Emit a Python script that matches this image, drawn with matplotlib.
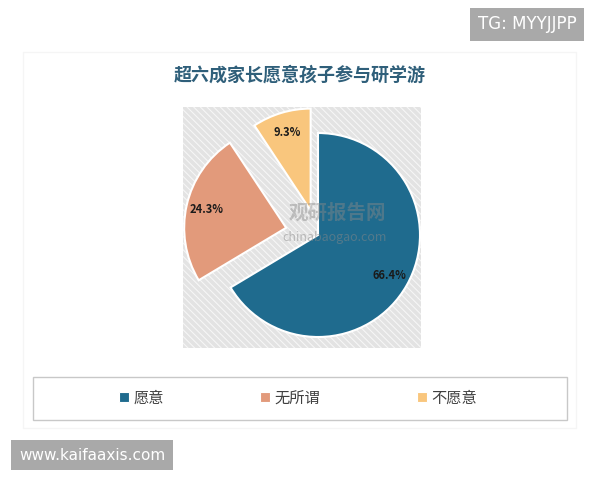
import matplotlib
matplotlib.use("Agg")
import matplotlib.pyplot as plt
from matplotlib.patches import Rectangle, Patch

plt.rcParams['font.family'] = ['Noto Sans CJK SC', 'DejaVu Sans']
plt.rcParams['hatch.linewidth'] = 0.8

title = "超六成家长愿意孩子参与研学游"
categories = ["愿意", "无所谓", "不愿意"]
values = [66.4, 24.3, 9.3]
colors = ["#1f6b8e", "#e29a7b", "#f9c67d"]
explode = [0.0, 0.32, 0.25]

fig = plt.figure(figsize=(6, 4.8), dpi=100)
fig.patch.set_facecolor("white")

W, H = 600, 480
def fx(px): return px / W
def fy(py): return 1 - py / H

# faint outer chart frame
fig.patches.append(Rectangle((fx(23), fy(428)), fx(576) - fx(23), fy(52) - fy(428),
                             transform=fig.transFigure, facecolor="none",
                             edgecolor="#f5f5f5", lw=1.0))

# title
fig.text(fx(300), fy(75), title, ha="center", va="center", fontsize=13,
         fontweight="bold", color="#2f5f7a")

# pie axes
left, right, top, bottom = 183, 421, 107, 348
ax = fig.add_axes([fx(left), fy(bottom), fx(right) - fx(left), fy(top) - fy(bottom)])
cx, cy, r = 318, 235, 102
ax.add_patch(Rectangle((0, 0), 1, 1, transform=ax.transAxes, facecolor="#e3e3e3",
                       edgecolor="#f6f6f6", hatch="\\\\\\\\\\", lw=0, zorder=0))

wedges, texts, autotexts = ax.pie(
    values, colors=colors, explode=explode, startangle=90, counterclock=False,
    autopct="%.1f%%", pctdistance=0.8, radius=1.0, frame=True,
    wedgeprops=dict(edgecolor="white", linewidth=1.5),
    textprops=dict(fontsize=8, fontweight="bold", color="#1a1a1a"))
ax.set_xlim((left - cx) / r, (right - cx) / r)
ax.set_ylim(-(bottom - cy) / r, (cy - top) / r)
ax.axis("off")

# watermark
fig.text(fx(337), fy(213), "观研报告网", ha="center", va="center", fontsize=14,
         fontweight="bold", color="#888888", alpha=0.45)
fig.text(fx(335), fy(238), "chinabaogao.com", ha="center", va="center", fontsize=9,
         color="#888888", alpha=0.5)

# legend box
fig.patches.append(Rectangle((fx(33), fy(420)), fx(567) - fx(33), fy(377) - fy(420),
                             transform=fig.transFigure, facecolor="white",
                             edgecolor="#c8c8c8", lw=1.0))
handles = [Patch(facecolor=c, edgecolor="white", lw=0.8) for c in colors]
fig.legend(handles, categories, loc="center", bbox_to_anchor=(fx(298), fy(398)),
           ncol=3, frameon=False, fontsize=11, handlelength=0.65, handleheight=0.65,
           handletextpad=0.3, columnspacing=6.3, labelcolor="#404040")

# corner tags
fig.text(fx(527), fy(24), "TG: MYYJJPP", ha="center", va="center", fontsize=12,
         color="white", family="DejaVu Sans",
         bbox=dict(boxstyle="square,pad=0.45", facecolor="#a9a9a9", edgecolor="none"))
fig.text(fx(92), fy(455), "www.kaifaaxis.com", ha="center", va="center", fontsize=11,
         color="white", family="DejaVu Sans",
         bbox=dict(boxstyle="square,pad=0.5", facecolor="#a9a9a9", edgecolor="none"))

fig.savefig("out.png", dpi=100, facecolor="white")
